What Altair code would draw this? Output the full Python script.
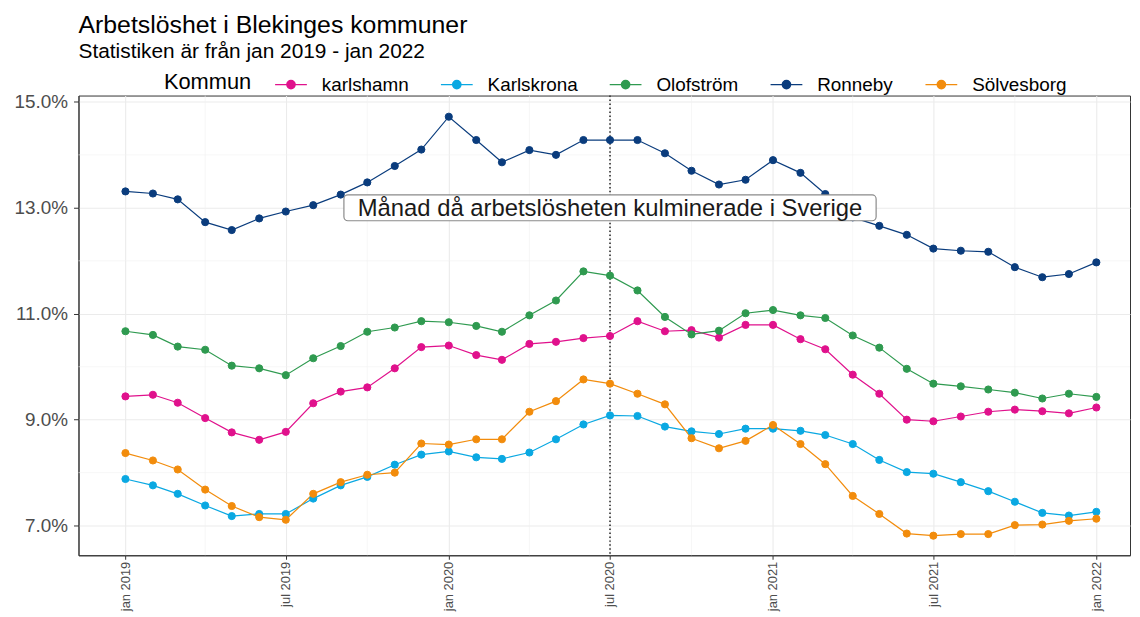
import json
import altair as alt
import pandas as pd

# ---------------- data ----------------
months = pd.date_range("2019-01-01", "2022-01-01", freq="MS").strftime("%Y-%m-%d").tolist()

kommuner = ["karlshamn", "Karlskrona", "Olofström", "Ronneby", "Sölvesborg"]
kommun_colors = ["#E0118C", "#0AA8E2", "#2F9A50", "#0A3C7D", "#F28C0C"]

karlshamn = [9.44, 9.47, 9.32, 9.03, 8.76, 8.62, 8.77, 9.31, 9.53, 9.61, 9.97, 10.37, 10.40,
             10.22, 10.13, 10.43, 10.47, 10.54, 10.58,
             10.86, 10.67, 10.69, 10.55, 10.79, 10.79,
             10.52, 10.33, 9.85, 9.49, 9.00, 8.97,
             9.06, 9.15, 9.19, 9.16, 9.12, 9.23]
karlskrona = [7.88, 7.76, 7.60, 7.38, 7.18, 7.22, 7.22, 7.51, 7.76, 7.92, 8.15, 8.34, 8.40,
              8.29, 8.26, 8.38, 8.63, 8.91, 9.08,
              9.07, 8.87, 8.78, 8.73, 8.83, 8.83,
              8.79, 8.71, 8.54, 8.24, 8.01, 7.98,
              7.82, 7.65, 7.45, 7.24, 7.19, 7.26]
olofstrom = [10.67, 10.60, 10.38, 10.32, 10.02, 9.97, 9.84, 10.16, 10.39, 10.66, 10.74, 10.86, 10.84,
             10.77, 10.66, 10.97, 11.25, 11.80, 11.72,
             11.44, 10.94, 10.61, 10.68, 11.01, 11.07,
             10.97, 10.92, 10.59, 10.36, 9.96, 9.68,
             9.63, 9.57, 9.51, 9.40, 9.49, 9.43]
ronneby = [13.31, 13.27, 13.16, 12.73, 12.58, 12.80, 12.93, 13.05, 13.25, 13.48, 13.79, 14.10, 14.72,
           14.28, 13.86, 14.09, 14.00, 14.28, 14.28,
           14.28, 14.03, 13.70, 13.44, 13.53, 13.90,
           13.66, 13.26, 12.82, 12.66, 12.49, 12.23,
           12.19, 12.17, 11.88, 11.69, 11.75, 11.97]
solvesborg = [8.37, 8.23, 8.06, 7.68, 7.37, 7.16, 7.11, 7.60, 7.82, 7.96, 8.00, 8.55, 8.53,
              8.63, 8.63, 9.15, 9.35, 9.76, 9.68,
              9.49, 9.29, 8.65, 8.46, 8.60, 8.90,
              8.54, 8.16, 7.56, 7.22, 6.85, 6.81,
              6.84, 6.84, 7.01, 7.02, 7.09, 7.13]

x_tick_dates = ["2019-01-01", "2019-07-01", "2020-01-01", "2020-07-01",
                "2021-01-01", "2021-07-01", "2022-01-01"]
x_tick_labels = ["jan 2019", "jul 2019", "jan 2020", "jul 2020",
                 "jan 2021", "jul 2021", "jan 2022"]
x_minor_dates = ["2019-04-01", "2019-10-01", "2020-04-01", "2020-10-01",
                 "2021-04-01", "2021-10-01"]
y_tick_values = [7, 9, 11, 13, 15]
y_tick_labels = ["7.0%", "9.0%", "11.0%", "13.0%", "15.0%"]
y_minor_values = [8, 10, 12, 14]

peak_date = ["2020-07-01"]
label_value = [13.0]
label_text = ["Månad då arbetslösheten kulminerade i Sverige"]

title_text = "Arbetslöshet i Blekinges kommuner"
subtitle_text = "Statistiken är från jan 2019 - jan 2022"
legend_title = "Kommun"

# ---------------- tables ----------------
series = {"karlshamn": karlshamn, "Karlskrona": karlskrona, "Olofström": olofstrom,
          "Ronneby": ronneby, "Sölvesborg": solvesborg}
rows = []
for k in kommuner:
    for d, v in zip(months, series[k]):
        rows.append({"date": d, "value": v, "kommun": k})
df = pd.DataFrame(rows)

df_xminor = pd.DataFrame({"date": x_minor_dates})
df_yminor = pd.DataFrame({"value": y_minor_values})
df_peak = pd.DataFrame({"date": peak_date})
df_label = pd.DataFrame({"date": peak_date, "value": label_value, "text": label_text})

FONT = "Liberation Sans"


def to_ms(d):
    return int(pd.Timestamp(d, tz="UTC").timestamp() * 1000)


x_tick_ms = [to_ms(d) for d in x_tick_dates]
x_label_expr = f"{json.dumps(x_tick_labels)}[indexof({json.dumps(x_tick_ms)}, toNumber(datum.value))]"
y_label_expr = f"{json.dumps(y_tick_labels)}[indexof({json.dumps(y_tick_values)}, toNumber(datum.value))]"

xscale = alt.Scale(type="utc", nice=False,
                   domain=[alt.DateTime(year=2018, month=11, date=9, utc=True),
                           alt.DateTime(year=2022, month=2, date=8, utc=True)])
yscale = alt.Scale(domain=[6.44, 15.12], nice=False, zero=False)

x_axis = alt.Axis(values=x_tick_ms, labelExpr=x_label_expr, labelAngle=270,
                  labelAlign="right", labelBaseline="middle", labelFontSize=13,
                  labelColor="#4D4D4D", labelPadding=2, labelFlush=False, labelOverlap=False,
                  tickSize=4, tickColor="#333333", domainColor="#333333",
                  grid=True, gridColor="#EBEBEB", gridWidth=1.1, title=None, labelFont=FONT)
y_axis = alt.Axis(values=y_tick_values, labelExpr=y_label_expr, labelFontSize=19,
                  labelColor="#4D4D4D", labelPadding=6, tickSize=5, tickColor="#333333",
                  domainColor="#333333", grid=True, gridColor="#EBEBEB", gridWidth=1.1,
                  title=None, labelFont=FONT)

X = alt.X("date:T", scale=xscale, axis=x_axis, title=None)
Y = alt.Y("value:Q", scale=yscale, axis=y_axis, title=None)

legend_symbol = "M-1,0L1,0M-0.26,0A0.26,0.26,0,1,0,0.26,0A0.26,0.26,0,1,0,-0.26,0Z"
leg = alt.Legend(orient="none", legendX=86, legendY=-28, direction="horizontal",
                 title=legend_title, titleOrient="left", titleFontSize=22,
                 titleFontWeight="normal", titleColor="black", titleFont=FONT,
                 titleBaseline="middle", titleAnchor="middle", titlePadding=22,
                 labelFontSize=19, labelColor="black", labelFont=FONT,
                 symbolType=legend_symbol, symbolSize=1024, symbolStrokeWidth=1.5,
                 labelOffset=14, columnPadding=29, symbolOpacity=1)
color_scale = alt.Scale(domain=kommuner, range=kommun_colors)
STROKE = alt.Stroke("kommun:N", scale=color_scale, legend=leg, sort=kommuner)
FILL = alt.Fill("kommun:N", scale=color_scale, legend=leg, sort=kommuner)

minor_h = alt.Chart(df_yminor).mark_rule(color="#F2F2F2", strokeWidth=0.6).encode(y=Y)
minor_v = alt.Chart(df_xminor).mark_rule(color="#F2F2F2", strokeWidth=0.6).encode(x=X)
peak = alt.Chart(df_peak).mark_rule(color="#222222", strokeWidth=1.5,
                                    strokeDash=[1.5, 2.5]).encode(x=X)
lines = alt.Chart(df).mark_line(strokeWidth=1.2).encode(x=X, y=Y, stroke=STROKE,
                                                        detail="kommun:N")
points = alt.Chart(df).mark_circle(size=52, opacity=1, strokeWidth=1).encode(
    x=X, y=Y, stroke=STROKE, fill=FILL)

box_w = 536
hh = 13 / (box_w / 2)
r = 4 / (box_w / 2)
box_path = (f"M{-1 + r},{-hh}L{1 - r},{-hh}A{r},{r},0,0,1,1,{-hh + r}"
            f"L1,{hh - r}A{r},{r},0,0,1,{1 - r},{hh}L{-1 + r},{hh}"
            f"A{r},{r},0,0,1,-1,{hh - r}L-1,{-hh + r}A{r},{r},0,0,1,{-1 + r},{-hh}Z")
box = alt.Chart(df_label).mark_point(shape=box_path, size=box_w ** 2, filled=True,
                                     fill="white", stroke="#8A8A8A", strokeWidth=1.2,
                                     opacity=1).encode(x=X, y=Y)
text = alt.Chart(df_label).mark_text(fontSize=24, font=FONT, color="#1A1A1A",
                                     align="center", baseline="middle", dy=1).encode(
    x=X, y=Y, text="text:N")

chart = alt.layer(minor_h, minor_v, peak, lines, points, box, text).properties(
    width=1059, height=463,
    padding={"left": 71, "top": 86, "right": 2, "bottom": 60},
    autosize=alt.AutoSizeParams(type="none"),
    title=alt.TitleParams(text=title_text, subtitle=subtitle_text, anchor="start",
                          frame="group", fontSize=25, subtitleFontSize=21,
                          fontWeight="normal", color="black", subtitleColor="black",
                          font=FONT, subtitleFont=FONT, offset=6, subtitlePadding=3),
).configure(font=FONT).configure_view(stroke="#333333", strokeWidth=1)

chart.save("out.html", embed_options={"renderer": "svg", "actions": False})
